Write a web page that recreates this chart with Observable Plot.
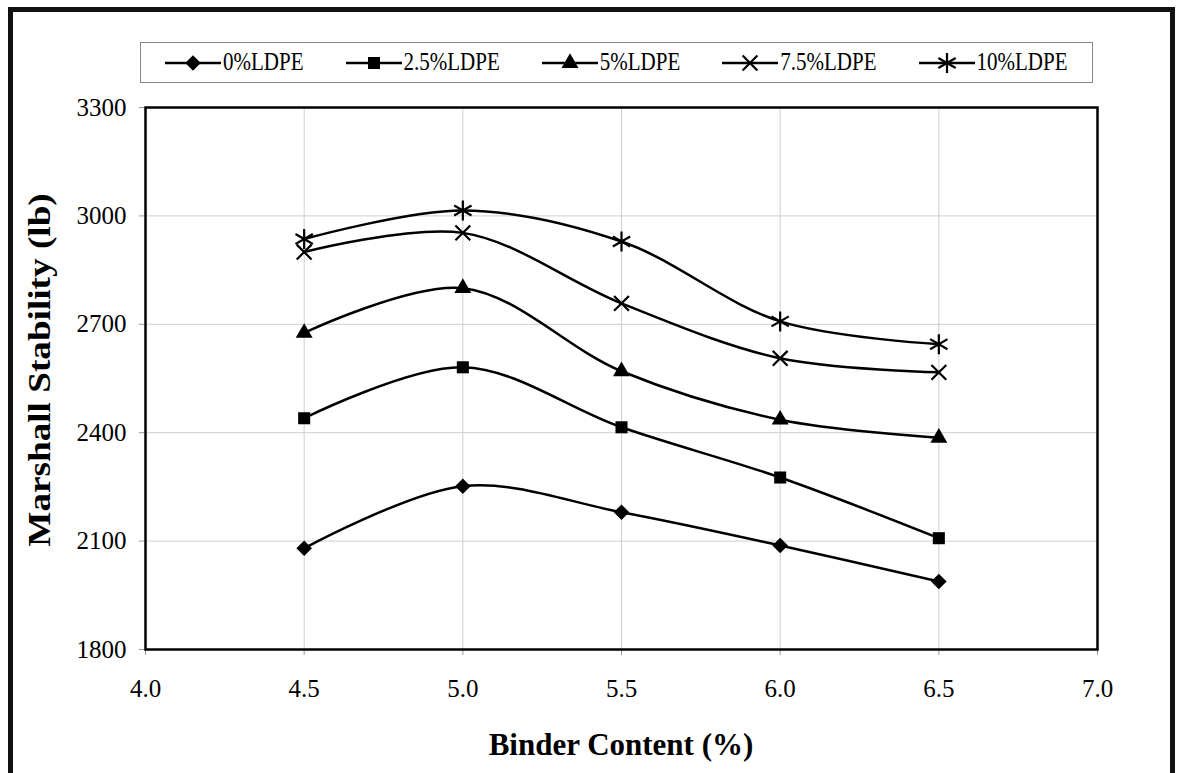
<!DOCTYPE html>
<html>
<head>
<meta charset="utf-8">
<script src="https://cdn.jsdelivr.net/npm/d3@7"></script>
<script src="https://cdn.jsdelivr.net/npm/@observablehq/plot@0.6"></script>
<style>
  html, body { margin: 0; padding: 0; background: #fff; }
  #wrap { position: relative; width: 1178px; height: 773px; overflow: hidden; font-family: "Liberation Serif", "Times New Roman", serif; color: #000; }
  #wrap svg.plot { position: absolute; left: 0; top: 0; }
  #wrap svg.plot g[aria-label$="tick label"], #wrap svg.plot g[aria-label$="tick label"] text { font-family: "Liberation Serif", "Times New Roman", serif !important; font-size: 25px !important; font-variant: normal !important; }
  #border { position: absolute; left: 8px; top: 7px; width: 1157px; height: 763px; border: 5px solid #111; }
  #legend { position: absolute; left: 140px; top: 42px; width: 927px; height: 39px; border: 1px solid #888; display: flex; align-items: center; padding-left: 24px; box-sizing: content-box; gap: 42px; font-size: 21px; }
  #legend .item { display: flex; align-items: center; }
  #legend .item span { margin-left: 2px; transform: scaleY(1.15); display: inline-block; }
  #xtitle { position: absolute; left: 0; width: 1242px; top: 727px; text-align: center; font-weight: bold; font-size: 31px; }
  #ytitle { position: absolute; left: 40px; top: 370px; font-weight: bold; font-size: 31px; white-space: nowrap; transform: translate(-50%, -50%) rotate(-90deg) scaleX(1.2); }
</style>
</head>
<body>
<div id="wrap"></div>
<script>
// ---- data ----
const binderContent = [4.5, 5.0, 5.5, 6.0, 6.5];
const seriesNames = ["0%LDPE", "2.5%LDPE", "5%LDPE", "7.5%LDPE", "10%LDPE"];
const ldpe0   = [2080, 2252, 2180, 2088, 1988];
const ldpe2_5 = [2440, 2581, 2415, 2276, 2108];
const ldpe5   = [2676, 2800, 2570, 2436, 2386];
const ldpe7_5 = [2900, 2953, 2758, 2606, 2567];
const ldpe10  = [2936, 3015, 2929, 2708, 2645];
const xTicks = [4.0, 4.5, 5.0, 5.5, 6.0, 6.5, 7.0];
const yTicks = [1800, 2100, 2400, 2700, 3000, 3300];
const xLabel = "Binder Content (%)";
const yLabel = "Marshall Stability (lb)";

// ---- styles ----
const symbols = ["diamond2", "square", "triangle", "times", "asterisk"];
const filled = [true, true, true, false, false];
const radii = [7, 6.8, 6.3, 6.8, 9.5];
const d3Symbols = [d3.symbolDiamond2, d3.symbolSquare, d3.symbolTriangle, d3.symbolTimes, d3.symbolAsterisk];
const serif = '"Liberation Serif", "Times New Roman", serif';

const valuesBySeries = [ldpe0, ldpe2_5, ldpe5, ldpe7_5, ldpe10];
const rows = [];
seriesNames.forEach((s, i) => binderContent.forEach((b, j) => rows.push({series: s, idx: i, x: b, y: valuesBySeries[i][j]})));

const dotMarks = seriesNames.map((s, i) => Plot.dot(rows.filter(r => r.idx === i), {
  x: "x", y: "y", symbol: () => symbols[i], r: radii[i],
  fill: filled[i] ? "black" : "none",
  stroke: filled[i] ? "none" : "black",
  strokeWidth: filled[i] ? 0 : 2.2
}));

const chart = Plot.plot({
  width: 1178, height: 773,
  marginLeft: 145, marginRight: 81, marginTop: 107, marginBottom: 124,
  style: {fontFamily: serif, fontSize: "24px", background: "transparent", color: "black", overflow: "visible"},
  x: {domain: [4, 7]},
  y: {domain: [1800, 3300]},
  marks: [
    Plot.gridX(xTicks, {stroke: "#cfcfcf", strokeOpacity: 1, strokeWidth: 1}),
    Plot.gridY(yTicks, {stroke: "#cfcfcf", strokeOpacity: 1, strokeWidth: 1}),
    Plot.axisX(xTicks, {tickFormat: d => d.toFixed(1), tickSize: 6, tickPadding: 24, stroke: "#999", fill: "black", label: null, fontSize: 25, fontFamily: serif}),
    Plot.axisY(yTicks, {tickFormat: d => String(d), tickSize: 6, tickPadding: 13, stroke: "#999", fill: "black", label: null, fontSize: 25, fontFamily: serif}),
    Plot.frame({stroke: "black", strokeWidth: 2.5}),
    Plot.line(rows, {x: "x", y: "y", z: "series", curve: "catmull-rom", stroke: "black", strokeWidth: 2.5}),
    ...dotMarks
  ]
});
chart.classList.add("plot");

const wrap = document.getElementById("wrap");
wrap.appendChild(chart);

const border = document.createElement("div");
border.id = "border";
wrap.appendChild(border);

// legend
const legend = document.createElement("div");
legend.id = "legend";
seriesNames.forEach((s, i) => {
  const item = document.createElement("div");
  item.className = "item";
  const area = radii[i] ** 2 * Math.PI;
  const path = d3.symbol(d3Symbols[i], area)();
  item.innerHTML = `<svg width="56" height="24" viewBox="0 0 56 24">
    <line x1="0" y1="12" x2="56" y2="12" stroke="black" stroke-width="2.5"/>
    <path transform="translate(28,12)" d="${path}" fill="${filled[i] ? "black" : "none"}" stroke="${filled[i] ? "none" : "black"}" stroke-width="2.2"/>
  </svg><span>${s}</span>`;
  legend.appendChild(item);
});
wrap.appendChild(legend);

const xt = document.createElement("div");
xt.id = "xtitle"; xt.textContent = xLabel;
wrap.appendChild(xt);
const yt = document.createElement("div");
yt.id = "ytitle"; yt.textContent = yLabel;
wrap.appendChild(yt);
</script>
</body>
</html>
